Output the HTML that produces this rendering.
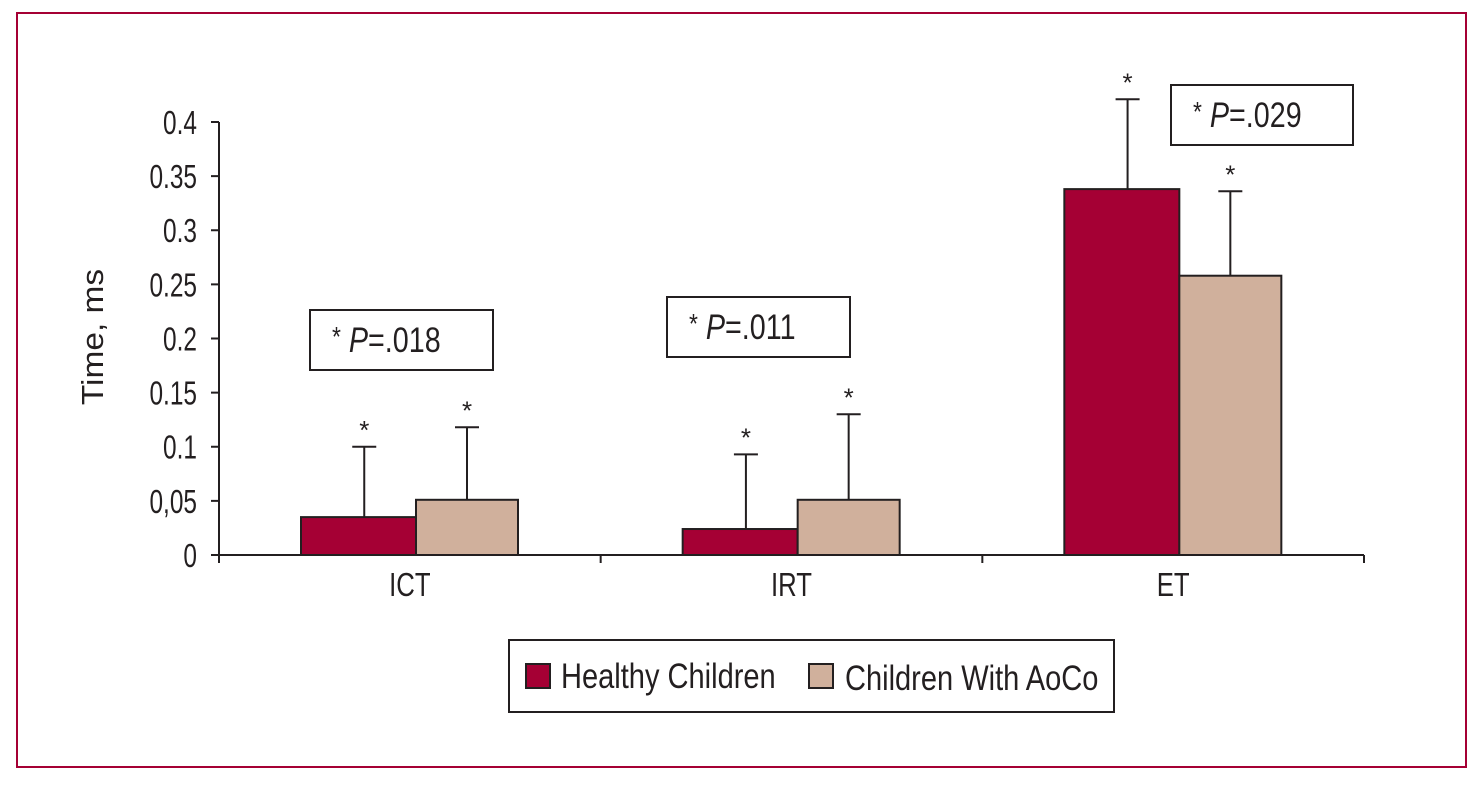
<!DOCTYPE html>
<html><head><meta charset="utf-8"><style>
body{margin:0;background:#fff}
svg text{font-family:"Liberation Sans",sans-serif;fill:#231f20}
</style></head><body>
<svg width="1483" height="783" viewBox="0 0 1483 783">
<rect x="17" y="13" width="1449" height="754" fill="none" stroke="#a50034" stroke-width="2"/>
<g id="plot"></g>
</svg>
<script>
const categories=["ICT","IRT","ET"];
const healthy=[0.035,0.024,0.338];
const aoco=[0.051,0.051,0.258];
const healthyErr=[0.100,0.093,0.421];
const aocoErr=[0.118,0.130,0.336];
const yTicks=[0,0.05,0.1,0.15,0.2,0.25,0.3,0.35,0.4];
const yTickLabels=["0","0,05","0.1","0.15","0.2","0.25","0.3","0.35","0.4"];
const pLabels=["=.018","=.011","=.029"];
const NS="http://www.w3.org/2000/svg";
const g=document.getElementById('plot');
const x0=219,x1=1364,y0=555,y1=122;
const y=v=>y0-(v/0.4)*(y0-y1);
const cw=(x1-x0)/categories.length;
function el(t,a,p){const e=document.createElementNS(NS,t);for(const k in a)e.setAttribute(k,a[k]);(p||g).appendChild(e);return e;}
const sx=(x,s)=>`translate(${x} 0) scale(${s} 1) translate(${-x} 0)`;
const ya=el('line',{x1:x0,y1:y1,x2:x0,y2:y0+8,stroke:'#231f20','stroke-width':2});


const xa=el('line',{x1:x0-8,y1:y0,x2:x1,y2:y0,stroke:'#231f20','stroke-width':2});


yTicks.forEach((v,i)=>{
  el('line',{x1:x0-8,y1:y(v),x2:x0,y2:y(v),stroke:'#231f20','stroke-width':2});
  const t=el('text',{x:197,y:y(v)+12,'text-anchor':'end','font-size':33,transform:sx(197,0.74)});
  t.textContent=yTickLabels[i];
  
  
});
const yt=el('text',{x:0,y:0,'text-anchor':'middle','font-size':31,transform:'translate(103 337) rotate(-90) scale(1.08 1)'});
yt.textContent='Time, ms';


for(let i=0;i<=categories.length;i++){el('line',{x1:x0+cw*i,y1:y0,x2:x0+cw*i,y2:y0+8,stroke:'#231f20','stroke-width':2});}
const pBoxes=[[310,310,183,60],[667,297,183,60],[1171,85,182,60]];
const starFor=(cx,v)=>{const s=el('text',{x:cx,y:y(v)-8,'text-anchor':'middle','font-size':26});s.textContent='*';};
categories.forEach((c,i)=>{
  const cs=x0+cw*i;
  const hx=cs+82,hw=115,ax=hx+hw,aw=102;
  const hb=el('rect',{x:hx,y:y(healthy[i]),width:hw,height:y0-y(healthy[i]),fill:'#a50034',stroke:'#231f20','stroke-width':2});
  
  
  const ab=el('rect',{x:ax,y:y(aoco[i]),width:aw,height:y0-y(aoco[i]),fill:'#d0b09c',stroke:'#231f20','stroke-width':2});
  
  
  [[hx+hw*0.55,healthy[i],healthyErr[i]],[ax+aw/2,aoco[i],aocoErr[i]]].forEach(([cx,v,e])=>{
    const l=el('path',{d:`M${cx} ${y(v)}V${y(e)}M${cx-12} ${y(e)}H${cx+12}`,stroke:'#231f20','stroke-width':2,fill:'none'});
    
    
    starFor(cx,e);
  });
  const t=el('text',{x:cs+cw/2,y:596,'text-anchor':'middle','font-size':33,transform:sx(cs+cw/2,0.78)});
  t.textContent=c;
  
  
  const b=pBoxes[i];
  const r=el('rect',{x:b[0],y:b[1],width:b[2],height:b[3],fill:'#fff',stroke:'#231f20','stroke-width':2});
  
  
  const pt=el('text',{x:b[0]+22,y:b[1]+42,'font-size':35,transform:sx(b[0]+22,0.82)});
  pt.innerHTML='<tspan font-size="28" dy="-6">*</tspan><tspan dy="6" font-style="italic"> P</tspan><tspan>'+pLabels[i]+'</tspan>';
  
  
});
const lg=el('g',{});


el('rect',{x:509,y:640,width:605,height:72,fill:'#fff',stroke:'#231f20','stroke-width':2},lg);
el('rect',{x:526,y:664,width:24,height:24,fill:'#a50034',stroke:'#231f20','stroke-width':2},lg);
el('rect',{x:809,y:664,width:24,height:24,fill:'#d0b09c',stroke:'#231f20','stroke-width':2},lg);
const l1=el('text',{x:561,y:688,'font-size':35,transform:sx(561,0.83)},lg);l1.textContent='Healthy Children';


const l2=el('text',{x:845,y:690,'font-size':35,transform:sx(845,0.83)},lg);l2.textContent='Children With AoCo';


</script>
</body></html>
